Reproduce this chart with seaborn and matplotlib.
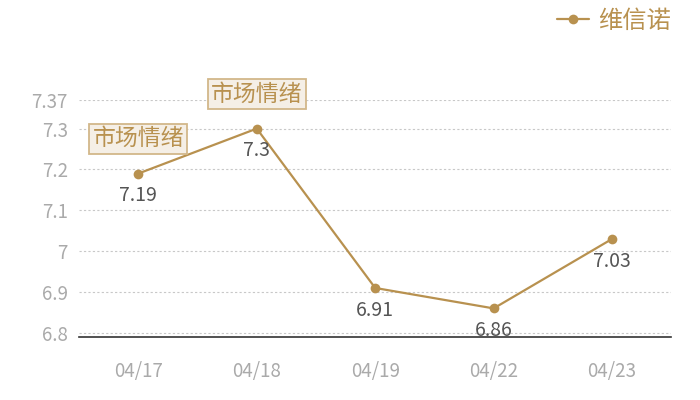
import seaborn as sns
import matplotlib.pyplot as plt
import pandas as pd

dates = ['04/17', '04/18', '04/19', '04/22', '04/23']
values = [7.19, 7.3, 6.91, 6.86, 7.03]
series_name = '维信诺'
event_label = '市场情绪'
event_idx = [0, 1]
yticks = [6.8, 6.9, 7.0, 7.1, 7.2, 7.3, 7.37]
ytick_labels = ['6.8', '6.9', '7', '7.1', '7.2', '7.3', '7.37']

gold = '#b8914f'

sns.set_theme(style='white')
plt.rcParams['font.family'] = ['Noto Sans CJK SC', 'DejaVu Sans']

df = pd.DataFrame({'date': dates, 'value': values, 'name': series_name})

fig = plt.figure(figsize=(7, 4), dpi=100)
ax = fig.add_axes([0.113, 0.1575, 0.846, 0.5925])

sns.lineplot(data=df, x='date', y='value', hue='name', palette=[gold],
             marker='o', markersize=7, markeredgewidth=0, linewidth=1.6,
             sort=False, ax=ax)

ax.set_xlim(-0.5, len(dates) - 0.5)
ax.set_ylim(6.79, 7.37)
ax.set_yticks(yticks)
ax.set_yticklabels(ytick_labels)
ax.yaxis.grid(True, linestyle=(0, (2, 2)), color='#c8c8c8', linewidth=0.8)
ax.xaxis.grid(False)
for s in ['top', 'right', 'left']:
    ax.spines[s].set_visible(False)
ax.spines['bottom'].set_color('#333333')
ax.spines['bottom'].set_linewidth(1.2)
ax.tick_params(axis='both', length=0, labelsize=13.5, colors='#aaaaaa')
ax.tick_params(axis='x', pad=17)
ax.tick_params(axis='y', pad=8)
ax.set_xlabel('')
ax.set_ylabel('')

# value labels under each point
for i, v in enumerate(values):
    ax.annotate(f'{v:g}', (i, v), xytext=(0, -16), textcoords='offset points',
                ha='center', va='center', fontsize=14, color='#555555')

# event boxes
for i in event_idx:
    ax.annotate(event_label, (i, values[i]), xytext=(0, 25), textcoords='offset points',
                ha='center', va='center', fontsize=16.5, color=gold,
                bbox=dict(boxstyle='square,pad=0.14', facecolor='#f5efe6',
                          edgecolor='#d2b78a', linewidth=1.3),
                annotation_clip=False)

ax.get_legend().remove()
handles, labels = ax.get_legend_handles_labels()
leg = fig.legend(handles, labels, loc='upper right', bbox_to_anchor=(0.99, 1.035),
                 frameon=False, fontsize=17.5, handlelength=1.3, handletextpad=0.4)
for t in leg.get_texts():
    t.set_color(gold)

fig.savefig('out.png', dpi=100)
